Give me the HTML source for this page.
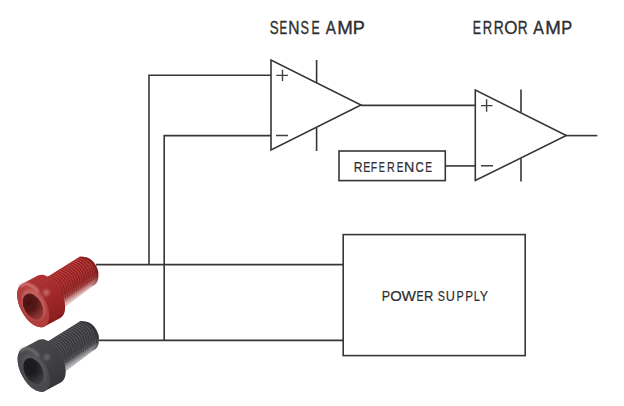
<!DOCTYPE html>
<html><head><meta charset="utf-8"><style>
html,body{margin:0;padding:0;background:#fff;}
body{width:624px;height:406px;overflow:hidden;}
svg{display:block;}
text{font-family:"Liberation Sans",sans-serif;fill:#2e2e2e;stroke:#2e2e2e;stroke-width:0.35px;}
</style></head><body>
<svg width="624" height="406" viewBox="0 0 624 406">
<defs><filter id="soft" x="-10%" y="-10%" width="120%" height="120%"><feGaussianBlur stdDeviation="0.6"/></filter><filter id="soft2" x="-50%" y="-50%" width="200%" height="200%"><feGaussianBlur stdDeviation="1.1"/></filter></defs>
<g fill="none" stroke="#363636" stroke-width="1.6">
<!-- sense amp -->
<path d="M271 60 L271 150 L361 105 Z" stroke-linejoin="miter"/>
<path d="M316.6 60 V82.8 M316.6 127.7 V151"/>
<path d="M276.3 75.4 H288 M282.5 69.7 V81 M276 135.5 H288" stroke-width="1.4" stroke="#404040"/>
<!-- error amp -->
<path d="M475.3 90 L475.3 180.5 L566.3 135.5 Z"/>
<path d="M521 89.6 V112.6 M521 158.5 V181.5"/>
<path d="M481 105.6 H492.5 M486.6 99.2 V111.7 M481 165.8 H493" stroke-width="1.4" stroke="#404040"/>
<!-- wires -->
<path d="M271 75.3 H149 V264.6"/>
<path d="M271 135.6 H164.2 V340.4"/>
<path d="M361 105.4 H475.3"/>
<path d="M445 165.9 H475.3"/>
<path d="M566.3 135.6 H597.3"/>
<path d="M96 264.6 H343"/>
<path d="M99 340.4 H343"/>
<!-- boxes -->
<rect x="339" y="151" width="106.3" height="29.6"/>
<rect x="343.2" y="234.6" width="182" height="121"/>
</g>
<!-- text -->
<text transform="translate(269.69 33.8) scale(0.754 1)" font-size="17.73">S</text>
<text transform="translate(279.46 33.8) scale(0.645 1)" font-size="17.73">E</text>
<text transform="translate(288.22 33.8) scale(0.878 1)" font-size="17.73">N</text>
<text transform="translate(300.42 33.8) scale(0.715 1)" font-size="17.73">S</text>
<text transform="translate(311.59 33.8) scale(0.697 1)" font-size="17.73">E</text>
<text transform="translate(325.87 33.8) scale(0.859 1)" font-size="17.73">A</text>
<text transform="translate(337.27 33.8) scale(1.054 1)" font-size="17.73">M</text>
<text transform="translate(352.72 33.8) scale(1.017 1)" font-size="17.73">P</text>
<text transform="translate(472.79 33.8) scale(0.697 1)" font-size="17.73">E</text>
<text transform="translate(482.84 33.8) scale(0.731 1)" font-size="17.73">R</text>
<text transform="translate(493.77 33.8) scale(0.779 1)" font-size="17.73">R</text>
<text transform="translate(504.20 33.8) scale(0.958 1)" font-size="17.73">O</text>
<text transform="translate(517.78 33.8) scale(0.769 1)" font-size="17.73">R</text>
<text transform="translate(533.27 33.8) scale(0.893 1)" font-size="17.73">A</text>
<text transform="translate(545.17 33.8) scale(1.054 1)" font-size="17.73">M</text>
<text transform="translate(561.26 33.8) scale(0.922 1)" font-size="17.73">P</text>
<text transform="translate(353.71 171.5) scale(0.810 1)" font-size="14.97" style="stroke-width:0.2px">R</text>
<text transform="translate(363.24 171.5) scale(0.702 1)" font-size="14.97" style="stroke-width:0.2px">E</text>
<text transform="translate(370.74 171.5) scale(0.697 1)" font-size="14.97" style="stroke-width:0.2px">F</text>
<text transform="translate(378.84 171.5) scale(0.616 1)" font-size="14.97" style="stroke-width:0.2px">E</text>
<text transform="translate(387.02 171.5) scale(0.720 1)" font-size="14.97" style="stroke-width:0.2px">R</text>
<text transform="translate(396.78 171.5) scale(0.665 1)" font-size="14.97" style="stroke-width:0.2px">E</text>
<text transform="translate(403.93 171.5) scale(0.957 1)" font-size="14.97" style="stroke-width:0.2px">N</text>
<text transform="translate(415.42 171.5) scale(0.759 1)" font-size="14.97" style="stroke-width:0.2px">C</text>
<text transform="translate(425.17 171.5) scale(0.678 1)" font-size="14.97" style="stroke-width:0.2px">E</text>
<text transform="translate(381.77 300.7) scale(0.858 1)" font-size="14.68" style="stroke-width:0.2px">P</text>
<text transform="translate(390.30 300.7) scale(1.008 1)" font-size="14.68" style="stroke-width:0.2px">O</text>
<text transform="translate(401.53 300.7) scale(1.048 1)" font-size="14.68" style="stroke-width:0.2px">W</text>
<text transform="translate(416.52 300.7) scale(0.729 1)" font-size="14.68" style="stroke-width:0.2px">E</text>
<text transform="translate(424.04 300.7) scale(0.883 1)" font-size="14.68" style="stroke-width:0.2px">R</text>
<text transform="translate(437.71 300.7) scale(0.734 1)" font-size="14.68" style="stroke-width:0.2px">S</text>
<text transform="translate(445.82 300.7) scale(0.864 1)" font-size="14.68" style="stroke-width:0.2px">U</text>
<text transform="translate(456.51 300.7) scale(0.742 1)" font-size="14.68" style="stroke-width:0.2px">P</text>
<text transform="translate(465.14 300.7) scale(0.794 1)" font-size="14.68" style="stroke-width:0.2px">P</text>
<text transform="translate(473.81 300.7) scale(0.742 1)" font-size="14.68" style="stroke-width:0.2px">L</text>
<text transform="translate(479.73 300.7) scale(0.842 1)" font-size="14.68" style="stroke-width:0.2px">Y</text>
<!-- /text -->

<!-- screws -->
<g filter="url(#soft)"><g>
<linearGradient id="rsS" gradientUnits="userSpaceOnUse" x1="46.3" y1="278.6" x2="63.7" y2="305.4">
<stop offset="0" stop-color="#bc3636"/><stop offset="0.42" stop-color="#aa2c2c"/><stop offset="0.7" stop-color="#922222"/><stop offset="0.86" stop-color="#b06060"/><stop offset="1" stop-color="#e4c0c0"/>
</linearGradient>
<linearGradient id="rsH" gradientUnits="userSpaceOnUse" x1="0" y1="-24" x2="0" y2="24">
<stop offset="0" stop-color="#ae3434"/><stop offset="0.5" stop-color="#a02a2a"/><stop offset="1" stop-color="#8a1e1e"/>
</linearGradient>
<radialGradient id="rsK" gradientUnits="userSpaceOnUse" cx="-3" cy="-4" r="17">
<stop offset="0" stop-color="#481010"/><stop offset="0.45" stop-color="#561616"/><stop offset="1" stop-color="#923636"/>
</radialGradient>
<clipPath id="rsC"><path d="M40.0 295.0 L44.0 279.0 L80.0 256.4 C81.2 256.6 84.8 256.7 87.0 257.6 C89.2 258.5 91.7 259.9 93.5 262.0 C95.3 264.1 97.0 267.3 97.8 270.0 C98.6 272.7 98.4 275.8 98.2 278.0 C98.0 280.2 97.4 281.7 96.5 283.0 C95.6 284.3 93.6 285.5 93.0 286.0  L63.5 308.0 L50.0 310.0 Z"/></clipPath>
<path d="M40.0 295.0 L44.0 279.0 L80.0 256.4 C81.2 256.6 84.8 256.7 87.0 257.6 C89.2 258.5 91.7 259.9 93.5 262.0 C95.3 264.1 97.0 267.3 97.8 270.0 C98.6 272.7 98.4 275.8 98.2 278.0 C98.0 280.2 97.4 281.7 96.5 283.0 C95.6 284.3 93.6 285.5 93.0 286.0  L63.5 308.0 L50.0 310.0 Z" fill="url(#rsS)"/>
<path d="M45.7 277.7 Q62.6 283.5 61.0 301.2 M47.9 276.3 Q64.8 282.1 63.2 299.8 M50.1 274.9 Q67.0 280.7 65.4 298.4 M52.3 273.5 Q69.1 279.2 67.5 297.0 M54.5 272.1 Q71.3 277.8 69.7 295.6 M56.6 270.7 Q73.5 276.4 71.9 294.1 M58.8 269.2 Q75.7 275.0 74.1 292.7 M61.0 267.8 Q77.9 273.6 76.3 291.3 M63.2 266.4 Q80.0 272.2 78.4 289.9 M65.4 265.0 Q82.2 270.7 80.6 288.5 M67.5 263.6 Q84.4 269.3 82.8 287.1 M69.7 262.2 Q86.6 267.9 85.0 285.6 M71.9 260.7 Q88.8 266.5 87.2 284.2 M74.1 259.3 Q90.9 265.1 89.3 282.8 M76.3 257.9 Q93.1 263.7 91.5 281.4 M78.4 256.5 Q95.3 262.3 93.7 280.0 M80.6 255.1 Q97.5 260.8 95.9 278.6 " fill="none" stroke="#6a1414" stroke-width="1.1" opacity="0.5" clip-path="url(#rsC)"/>
<path d="M46.8 277.0 Q63.1 281.9 61.0 298.8 M49.0 275.6 Q65.3 280.5 63.2 297.4 M51.2 274.2 Q67.5 279.1 65.4 296.0 M53.4 272.8 Q69.7 277.7 67.5 294.6 M55.6 271.4 Q71.9 276.3 69.7 293.2 M57.7 270.0 Q74.0 274.9 71.9 291.8 M59.9 268.5 Q76.2 273.4 74.1 290.3 M62.1 267.1 Q78.4 272.0 76.3 288.9 M64.3 265.7 Q80.6 270.6 78.4 287.5 M66.5 264.3 Q82.8 269.2 80.6 286.1 M68.6 262.9 Q84.9 267.8 82.8 284.7 M70.8 261.5 Q87.1 266.4 85.0 283.3 M73.0 260.0 Q89.3 265.0 87.2 281.8 M75.2 258.6 Q91.5 263.5 89.3 280.4 M77.4 257.2 Q93.7 262.1 91.5 279.0 M79.5 255.8 Q95.8 260.7 93.7 277.6 M81.7 254.4 Q98.0 259.3 95.9 276.2 " fill="none" stroke="#d86060" stroke-width="0.9" opacity="0.35" clip-path="url(#rsC)"/>
<path d="M80.0 256.4 C81.2 256.6 84.8 256.7 87.0 257.6 C89.2 258.5 91.7 259.9 93.5 262.0 C95.3 264.1 97.0 267.3 97.8 270.0 C98.6 272.7 98.4 275.8 98.2 278.0 C98.0 280.2 97.4 281.7 96.5 283.0 C95.6 284.3 93.6 285.5 93.0 286.0 " fill="none" stroke="#5a1010" stroke-width="3" opacity="0.55" clip-path="url(#rsC)" filter="url(#soft2)"/>
<g transform="translate(33.2 305.2) rotate(-28)">
<path d="M0 -24 L18 -24 A13 24 0 0 1 18 24 L0 24 A13 24 0 0 1 0 -24 Z" fill="url(#rsH)"/>
<ellipse cx="0" cy="0" rx="13" ry="24" fill="#b23e3e"/>
<g filter="url(#soft2)">
<path d="M-3.2 -22.5 A12.3 23.3 0 0 1 11.1 -9.8" fill="none" stroke="#e8a0a0" stroke-width="2.2" opacity="0.7"/>
<circle cx="17.5" cy="-5" r="3.2" fill="#e8a0a0" opacity="0.45"/>
<ellipse cx="0.8" cy="-0.6" rx="10.5" ry="16.5" fill="#c46262" opacity="0.9"/>
</g>
<ellipse cx="-0.8" cy="1.2" rx="9" ry="14" fill="url(#rsK)"/>
</g>
</g><g>
<linearGradient id="ksS" gradientUnits="userSpaceOnUse" x1="46.8" y1="343.1" x2="64.2" y2="369.9">
<stop offset="0" stop-color="#545458"/><stop offset="0.42" stop-color="#48484c"/><stop offset="0.7" stop-color="#404044"/><stop offset="0.86" stop-color="#6c6c70"/><stop offset="1" stop-color="#b4b4b8"/>
</linearGradient>
<linearGradient id="ksH" gradientUnits="userSpaceOnUse" x1="0" y1="-24" x2="0" y2="24">
<stop offset="0" stop-color="#48484b"/><stop offset="0.5" stop-color="#404043"/><stop offset="1" stop-color="#363639"/>
</linearGradient>
<radialGradient id="ksK" gradientUnits="userSpaceOnUse" cx="-3" cy="-4" r="17">
<stop offset="0" stop-color="#18181a"/><stop offset="0.45" stop-color="#1e1e20"/><stop offset="1" stop-color="#3a3a3d"/>
</radialGradient>
<clipPath id="ksC"><path d="M40.5 359.5 L44.5 343.5 L80.5 320.9 C81.7 321.1 85.2 321.2 87.5 322.1 C89.8 323.0 92.2 324.4 94.0 326.5 C95.8 328.6 97.5 331.8 98.3 334.5 C99.1 337.2 98.9 340.3 98.7 342.5 C98.5 344.7 97.9 346.2 97.0 347.5 C96.1 348.8 94.1 350.0 93.5 350.5  L64.0 372.5 L50.5 374.5 Z"/></clipPath>
<path d="M40.5 359.5 L44.5 343.5 L80.5 320.9 C81.7 321.1 85.2 321.2 87.5 322.1 C89.8 323.0 92.2 324.4 94.0 326.5 C95.8 328.6 97.5 331.8 98.3 334.5 C99.1 337.2 98.9 340.3 98.7 342.5 C98.5 344.7 97.9 346.2 97.0 347.5 C96.1 348.8 94.1 350.0 93.5 350.5  L64.0 372.5 L50.5 374.5 Z" fill="url(#ksS)"/>
<path d="M46.2 342.2 Q63.1 348.0 61.5 365.7 M48.4 340.8 Q65.3 346.6 63.7 364.3 M50.6 339.4 Q67.5 345.2 65.9 362.9 M52.8 338.0 Q69.6 343.7 68.0 361.5 M55.0 336.6 Q71.8 342.3 70.2 360.1 M57.1 335.2 Q74.0 340.9 72.4 358.6 M59.3 333.7 Q76.2 339.5 74.6 357.2 M61.5 332.3 Q78.4 338.1 76.8 355.8 M63.7 330.9 Q80.5 336.7 78.9 354.4 M65.9 329.5 Q82.7 335.2 81.1 353.0 M68.0 328.1 Q84.9 333.8 83.3 351.6 M70.2 326.7 Q87.1 332.4 85.5 350.1 M72.4 325.2 Q89.3 331.0 87.7 348.7 M74.6 323.8 Q91.4 329.6 89.8 347.3 M76.8 322.4 Q93.6 328.2 92.0 345.9 M78.9 321.0 Q95.8 326.8 94.2 344.5 M81.1 319.6 Q98.0 325.3 96.4 343.1 " fill="none" stroke="#1e1e22" stroke-width="1.1" opacity="0.5" clip-path="url(#ksC)"/>
<path d="M47.3 341.5 Q63.6 346.4 61.5 363.3 M49.5 340.1 Q65.8 345.0 63.7 361.9 M51.7 338.7 Q68.0 343.6 65.9 360.5 M53.9 337.3 Q70.2 342.2 68.0 359.1 M56.1 335.9 Q72.4 340.8 70.2 357.7 M58.2 334.5 Q74.5 339.4 72.4 356.3 M60.4 333.0 Q76.7 337.9 74.6 354.8 M62.6 331.6 Q78.9 336.5 76.8 353.4 M64.8 330.2 Q81.1 335.1 78.9 352.0 M67.0 328.8 Q83.3 333.7 81.1 350.6 M69.1 327.4 Q85.4 332.3 83.3 349.2 M71.3 326.0 Q87.6 330.9 85.5 347.8 M73.5 324.5 Q89.8 329.5 87.7 346.3 M75.7 323.1 Q92.0 328.0 89.8 344.9 M77.9 321.7 Q94.2 326.6 92.0 343.5 M80.0 320.3 Q96.3 325.2 94.2 342.1 M82.2 318.9 Q98.5 323.8 96.4 340.7 " fill="none" stroke="#747478" stroke-width="0.9" opacity="0.35" clip-path="url(#ksC)"/>
<path d="M80.5 320.9 C81.7 321.1 85.2 321.2 87.5 322.1 C89.8 323.0 92.2 324.4 94.0 326.5 C95.8 328.6 97.5 331.8 98.3 334.5 C99.1 337.2 98.9 340.3 98.7 342.5 C98.5 344.7 97.9 346.2 97.0 347.5 C96.1 348.8 94.1 350.0 93.5 350.5 " fill="none" stroke="#18181a" stroke-width="3" opacity="0.55" clip-path="url(#ksC)" filter="url(#soft2)"/>
<g transform="translate(33.7 369.7) rotate(-28)">
<path d="M0 -24 L18 -24 A13 24 0 0 1 18 24 L0 24 A13 24 0 0 1 0 -24 Z" fill="url(#ksH)"/>
<ellipse cx="0" cy="0" rx="13" ry="24" fill="#4a4a4d"/>
<g filter="url(#soft2)">
<path d="M-3.2 -22.5 A12.3 23.3 0 0 1 11.1 -9.8" fill="none" stroke="#8a8a8e" stroke-width="2.2" opacity="0.7"/>
<circle cx="17.5" cy="-5" r="3.2" fill="#8a8a8e" opacity="0.45"/>
<ellipse cx="0.8" cy="-0.6" rx="10.5" ry="16.5" fill="#56565a" opacity="0.9"/>
</g>
<ellipse cx="-0.8" cy="1.2" rx="9" ry="14" fill="url(#ksK)"/>
</g>
</g></g>
</svg>
</body></html>
